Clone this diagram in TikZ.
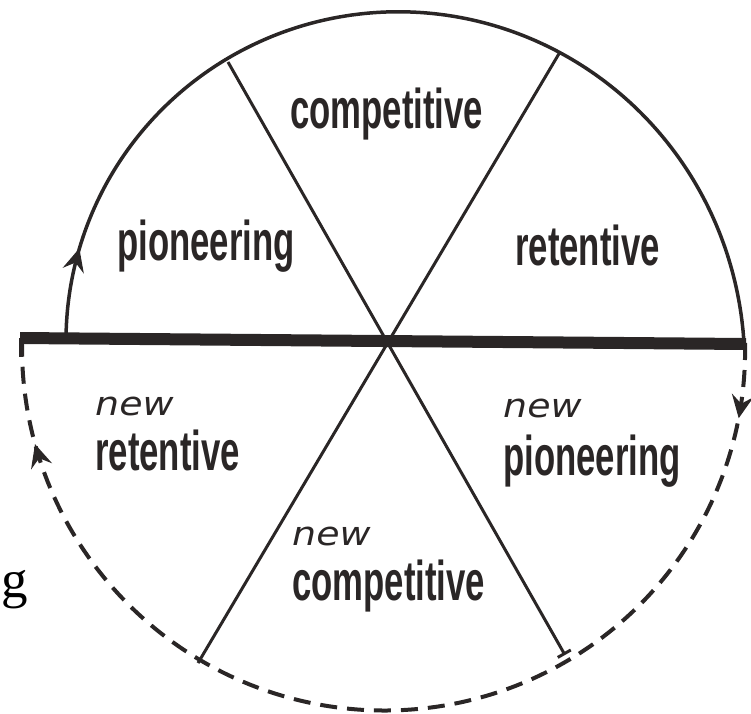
\documentclass[tikz,border=0pt]{standalone}
\usepackage{fontspec}
\usetikzlibrary{arrows.meta,decorations.markings}
\newfontfamily\condf[FakeStretch=0.62]{Liberation Sans}
\newfontfamily\newwordfont[FakeStretch=1.15]{DejaVu Sans}
\newfontfamily\serf{Liberation Serif}
\definecolor{ink}{RGB}{42,38,38}
\begin{document}
\begin{tikzpicture}[x=1pt,y=-1pt,
  lbl/.style={anchor=base west, inner sep=0pt, text=ink, font=\condf\bfseries\fontsize{56}{60}\selectfont},
  newlbl/.style={anchor=base west, inner sep=0pt, text=ink, font=\newwordfont\itshape\fontsize{33}{36}\selectfont},
  glbl/.style={anchor=base west, inner sep=0pt, text=black, font=\serf\fontsize{53}{56}\selectfont},
  radial/.style={draw=ink, line width=3pt},
  arcline/.style={draw=ink, line width=3.5pt},
  dashline/.style={draw=ink, line width=4pt, dash pattern=on 17pt off 10pt},
  bar/.style={draw=ink, line width=12pt},
  headshape/.style={fill=ink, draw=ink, line width=1.5pt, solid, line join=miter}]
\useasboundingbox (0,0) rectangle (751,713);
% named points
\coordinate (C) at (386,343);
\coordinate (A1) at (228,62);
\coordinate (B1) at (565,655);
\coordinate (A2) at (560,52);
\coordinate (B2) at (198,663);
\coordinate (barL) at (20,338);
\coordinate (barR) at (746,344);
\coordinate (tickT) at (21,338);
\coordinate (tickB) at (21,357);
% upper solid spiral arc
\draw[arcline, postaction={decorate},
  decoration={markings, mark=at position 0.085 with {\draw[headshape] (5pt,0pt) -- (-14pt,9pt) -- (-7pt,0pt) -- (-14pt,-9pt) -- cycle;}}]
  plot[domain=180:0, samples=91, smooth]
  ({386+(320+6*(1-\x/180)+32*(1-\x/180)^2)*cos(\x)},
   {343-(320+6*(1-\x/180)+32*(1-\x/180)^2)*sin(\x)});
% lower dashed arc
\draw[dashline, postaction={decorate},
  decoration={markings,
    mark=at position 0.06 with {\draw[headshape] (5pt,0pt) -- (-14pt,9pt) -- (-7pt,0pt) -- (-14pt,-9pt) -- cycle;},
    mark=at position 0.905 with {\draw[headshape] (5pt,0pt) -- (-14pt,9pt) -- (-7pt,0pt) -- (-14pt,-9pt) -- cycle;}}]
  plot[domain=0:-180, samples=91, smooth]
  ({386+(359-5*\x/180-6*sin(\x))*cos(\x)},
   {343-(359-5*\x/180-6*sin(\x))*sin(\x)});
% radial lines
\draw[radial, -{Bar[width=15pt,line width=3pt]}] (A1) -- (B1);
\draw[radial] (A2) -- (B2);
% thick bar
\draw[bar] (barL) -- (barR);
\draw[draw=ink, line width=3.5pt] (tickT) -- (tickB);
% labels
\node[lbl] (t1) at (290,128) {competitive};
\node[lbl] (t2) at (117,260) {pioneering};
\node[lbl] (t3) at (515,265) {retentive};
\node[newlbl] (n1) at (95,415) {new};
\node[lbl] (t4) at (95,470) {retentive};
\node[newlbl] (n2) at (503,417) {new};
\node[lbl] (t5) at (503,475) {pioneering};
\node[newlbl] (n3) at (292,545) {new};
\node[lbl] (t6) at (292,600) {competitive};
\node[glbl] (g) at (1,597) {g};
\end{tikzpicture}
\end{document}
